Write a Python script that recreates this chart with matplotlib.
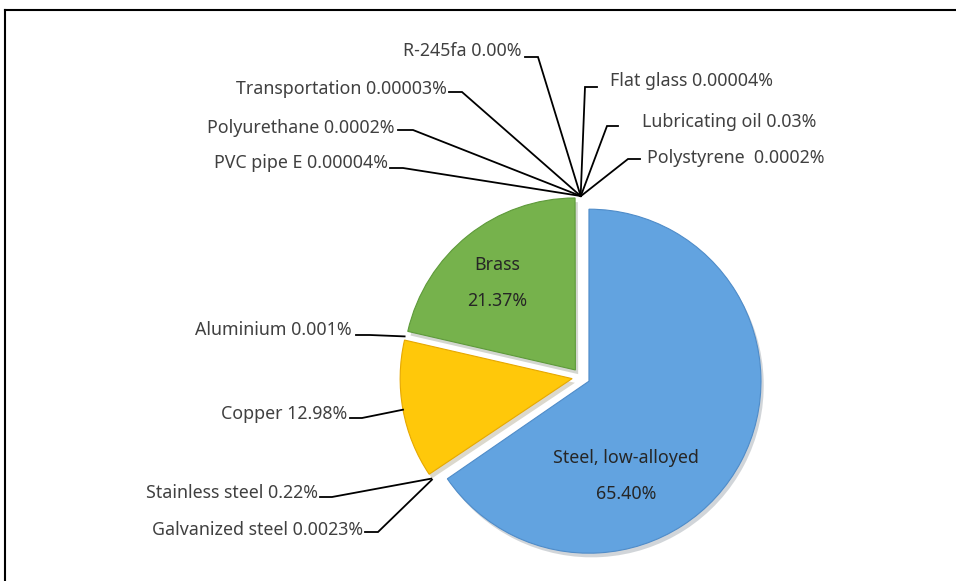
import numpy as np
import matplotlib
matplotlib.use('Agg')
import matplotlib.pyplot as plt
import matplotlib.patheffects as pe

# data, clockwise from 12 o'clock
materials = ['Steel, low-alloyed', 'Galvanized steel', 'Stainless steel', 'Copper',
             'Aluminium', 'Brass', 'PVC pipe E', 'Polyurethane', 'Transportation',
             'R-245fa', 'Flat glass', 'Lubricating oil', 'Polystyrene ']
pct_text = ['65.40', '0.0023', '0.22', '12.98', '0.001', '21.37', '0.00004', '0.0002',
            '0.00003', '0.00', '0.00004', '0.03', '0.0002']
values = [float(s) for s in pct_text]
big_colors = {'Steel, low-alloyed': '#62A3E0', 'Copper': '#FFC80A', 'Brass': '#76B24C'}
explode = [9, 0, 0, 9, 0, 9, 0, 0, 0, 0, 0, 0, 0]

# layout (pixels, y down): text x, text y, ha, leader y, elbow x0, elbow x1
label_pos = {
    'Galvanized steel': (363, 530, 'right', 532, 365, 378),
    'Stainless steel': (318, 493, 'right', 497, 320, 332),
    'Copper': (347, 414, 'right', 418, 350, 362),
    'Aluminium': (352, 330, 'right', 335, 356, 370),
    'PVC pipe E': (388, 163, 'right', 168, 390, 403),
    'Polyurethane': (395, 128, 'right', 130, 398, 413),
    'Transportation': (447, 89, 'right', 92, 449, 462),
    'R-245fa': (522, 51, 'right', 57, 525, 538),
    'Flat glass': (610, 81, 'left', 87, 597, 585),
    'Lubricating oil': (642, 122, 'left', 126, 618, 607),
    'Polystyrene ': (647, 158, 'left', 159, 640, 628),
}

W, H = 956, 581
cx, cy, R = 581, 377, 172
py = lambda y: H - y
FS = 12.8

plt.rcParams['font.family'] = 'Noto Sans'
fig = plt.figure(figsize=(W / 100, H / 100), dpi=100)
ax = fig.add_axes([0, 0, 1, 1])

colors = [big_colors.get(m, 'none') for m in materials]
wedges, _ = ax.pie(values, colors=colors, explode=explode, startangle=90,
                   counterclock=False, center=(cx, py(cy)), radius=R,
                   wedgeprops=dict(linewidth=0.8, edgecolor='none'))
ax.set_xlim(0, W)
ax.set_ylim(0, H)
ax.set_aspect('equal')
ax.axis('off')

# darker rim + soft shadow on the big slices
rims = {'Steel, low-alloyed': '#4F8CC9', 'Copper': '#E6A800', 'Brass': '#5E9A3A'}
for w, name in zip(wedges, materials):
    if name in rims:
        w.set_edgecolor(rims[name])
        w.set_path_effects([pe.SimplePatchShadow(offset=(2, -3), alpha=0.2), pe.Normal()])

for w, name, pct in zip(wedges, materials, pct_text):
    if name not in label_pos:
        continue
    tx, ty, ha, ly, e0, e1 = label_pos[name]
    mid = np.deg2rad((w.theta1 + w.theta2) / 2)
    ax_, ay_ = cx + (R + 9) * np.cos(mid), py(cy) + (R + 9) * np.sin(mid)
    ax.plot([e0, e1, ax_], [py(ly), py(ly), ay_], color='black', lw=1.3,
            solid_joinstyle='miter', zorder=5)
    ax.text(tx, py(ty), f'{name} {pct}%', ha=ha, va='center', fontsize=FS,
            color='#404040')

ax.text(497, py(283), 'Brass\n21.37%', ha='center', va='center', fontsize=FS,
        color='#262626', linespacing=2.3)
ax.text(626, py(476), 'Steel, low-alloyed\n65.40%', ha='center', va='center',
        fontsize=FS, color='#262626', linespacing=2.25)

# chart frame (only top and left edges are visible)
ax.plot([5, W], [py(10), py(10)], color='black', lw=1.5)
ax.plot([5, 5], [py(10), 0], color='black', lw=1.5)

fig.savefig('out.png', dpi=100)
